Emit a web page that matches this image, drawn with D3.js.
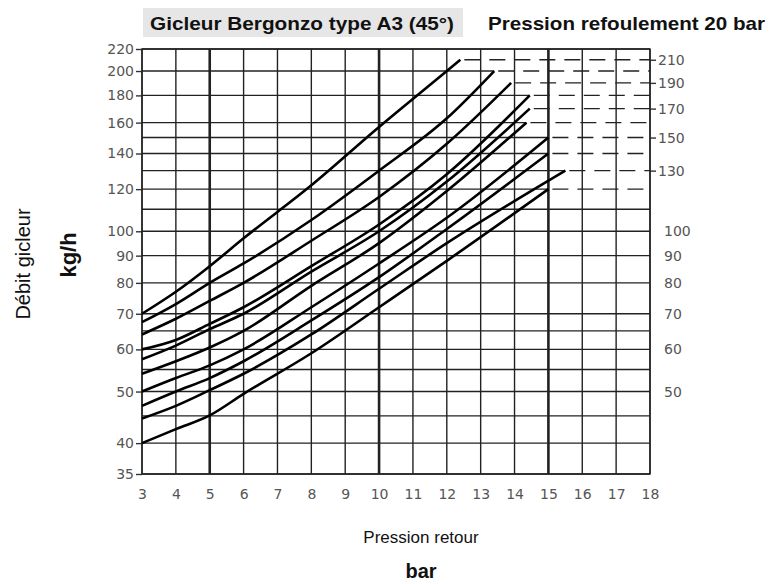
<!DOCTYPE html>
<html>
<head>
<meta charset="utf-8">
<script src="https://cdn.jsdelivr.net/npm/d3@7"></script>
<style>
  body { margin: 0; background: #fff; }
  svg { display: block; font-family: "Liberation Sans", Arial, sans-serif; }
</style>
</head>
<body>
<svg id="chart" width="771" height="584"></svg>
<script>
// Pression retour (bar) where each curve was read
const retour = [3, 4, 5, 6, 8, 10, 12];

// Débit (kg/h) of each curve at the points above, top curve first
const debits = [
  [70, 77, 86, 97, 122, 157, 200],
  [67.5, 73, 80, 87, 105, 130, 163],
  [64, 68.5, 74, 80, 96, 116, 146],
  [60, 62.5, 67, 72, 86, 103, 128],
  [57.5, 61, 65.5, 70, 84, 100, 124],
  [54, 57, 60.5, 65, 79, 95, 119],
  [50, 53, 56, 60, 72, 87, 106],
  [47, 50, 53, 57, 68, 82, 101],
  [44.5, 47, 50.3, 54, 64, 78, 95],
  [40, 42.5, 45.1, 49.5, 59, 72, 88]
];

// end point of each curve
const finRetour = [12.4, 13.4, 13.9, 14.45, 14.45, 14.35, 15, 15, 15.5, 15];
const finDebit = [210, 200, 190, 180, 170, 160, 150, 140, 130, 120];

const gridDebit = [35, 40, 45, 50, 55, 60, 65, 70, 80, 90, 100, 110, 120, 130, 140, 150, 160, 180, 200, 220];
const leftTicks = [35, 40, 50, 60, 70, 80, 90, 100, 120, 140, 160, 180, 200, 220];
const rightTicksHaut = [210, 190, 170, 150, 130];
const rightTicksBas = [100, 90, 80, 70, 60, 50];
const xTicks = d3.range(3, 19);
const majorX = [5, 10, 15];

const tickFont = '"DejaVu Sans", Verdana, sans-serif';

const svg = d3.select('#chart');
const x = d3.scaleLinear().domain([3, 18]).range([142, 650]);
const y = d3.scaleLog().domain([35, 220]).range([474, 49]);

// Title
svg.append('rect')
  .attr('x', 143).attr('y', 8).attr('width', 320).attr('height', 29)
  .attr('fill', '#e6e6e6');
svg.append('text')
  .attr('x', 150).attr('y', 30)
  .attr('font-size', 19).attr('font-weight', 'bold')
  .attr('fill', '#111')
  .attr('textLength', 304).attr('lengthAdjust', 'spacingAndGlyphs')
  .text('Gicleur Bergonzo type A3 (45°)');
svg.append('text')
  .attr('x', 488).attr('y', 30)
  .attr('font-size', 19).attr('font-weight', 'bold')
  .attr('fill', '#111')
  .attr('textLength', 277).attr('lengthAdjust', 'spacingAndGlyphs')
  .text('Pression refoulement 20 bar');

const grid = svg.append('g').attr('stroke', '#222');

// Horizontal grid: where a curve ends on a grid value, the line is dashed beyond that end
gridDebit.forEach(v => {
  const i = finDebit.indexOf(v);
  const solidEnd = i >= 0 ? finRetour[i] : 18;
  grid.append('line')
    .attr('x1', x(3)).attr('x2', x(solidEnd))
    .attr('y1', y(v)).attr('y2', y(v))
    .attr('stroke-width', 1.4);
});

// Dashed extensions from curve ends to the right axis
finDebit.forEach((v, i) => {
  grid.append('line')
    .attr('x1', x(finRetour[i])).attr('x2', x(18))
    .attr('y1', y(v)).attr('y2', y(v))
    .attr('stroke-width', 1.4)
    .attr('stroke-dasharray', '16,9')
    .attr('stroke-dashoffset', -4);
});

// Vertical grid
xTicks.forEach(t => {
  grid.append('line')
    .attr('x1', x(t)).attr('x2', x(t))
    .attr('y1', y(220)).attr('y2', y(35))
    .attr('stroke-width', majorX.includes(t) ? 2.6 : 1.4);
});

const styleTicks = g => g.selectAll('text')
  .attr('font-size', 14).attr('fill', '#555').attr('font-family', tickFont);

// Left axis
svg.append('g')
  .attr('transform', `translate(${x(3)},0)`)
  .call(d3.axisLeft(y).tickValues(leftTicks).tickFormat(d3.format('d')).tickSize(6).tickPadding(2))
  .call(g => g.select('.domain').remove())
  .call(g => g.selectAll('line').attr('stroke', '#333').attr('stroke-width', 1.4))
  .call(styleTicks);

// Right axis (upper values with ticks)
svg.append('g')
  .attr('transform', `translate(${x(18)},0)`)
  .call(d3.axisRight(y).tickValues(rightTicksHaut).tickFormat(d3.format('d')).tickSize(6).tickPadding(2))
  .call(g => g.select('.domain').remove())
  .call(g => g.selectAll('line').attr('stroke', '#333').attr('stroke-width', 1.4))
  .call(styleTicks);

svg.append('g')
  .attr('transform', `translate(${x(18)},0)`)
  .call(d3.axisRight(y).tickValues(rightTicksBas).tickFormat(d3.format('d')).tickSize(0).tickPadding(14))
  .call(g => g.select('.domain').remove())
  .call(styleTicks);

// Bottom axis
svg.append('g')
  .attr('transform', `translate(0,${y(35)})`)
  .call(d3.axisBottom(x).tickValues(xTicks).tickFormat(d3.format('d')).tickSize(0).tickPadding(15))
  .call(g => g.select('.domain').remove())
  .call(styleTicks);

// Frame
svg.append('rect')
  .attr('x', x(3)).attr('y', y(220))
  .attr('width', x(18) - x(3)).attr('height', y(35) - y(220))
  .attr('fill', 'none').attr('stroke', '#222').attr('stroke-width', 1.4);

// Curves
const line = d3.line()
  .x(d => x(d[0]))
  .y(d => y(d[1]))
  .curve(d3.curveMonotoneX);

svg.append('g')
  .selectAll('path')
  .data(debits.map((vals, i) => retour.map((r, j) => [r, vals[j]]).concat([[finRetour[i], finDebit[i]]])))
  .join('path')
  .attr('d', line)
  .attr('fill', 'none')
  .attr('stroke', '#000')
  .attr('stroke-width', 2.6);

// Axis titles
svg.append('text')
  .attr('x', 421).attr('y', 543)
  .attr('text-anchor', 'middle')
  .attr('font-size', 17).attr('fill', '#111')
  .text('Pression retour');
svg.append('text')
  .attr('x', 421).attr('y', 578)
  .attr('text-anchor', 'middle')
  .attr('font-size', 20).attr('font-weight', 'bold').attr('fill', '#111')
  .text('bar');
svg.append('text')
  .attr('transform', 'translate(30,264) rotate(-90)')
  .attr('text-anchor', 'middle')
  .attr('font-size', 20).attr('fill', '#111')
  .text('Débit gicleur');
svg.append('text')
  .attr('transform', 'translate(76,255) rotate(-90)')
  .attr('text-anchor', 'middle')
  .attr('font-size', 22).attr('font-weight', 'bold').attr('fill', '#111')
  .text('kg/h');
</script>
</body>
</html>
